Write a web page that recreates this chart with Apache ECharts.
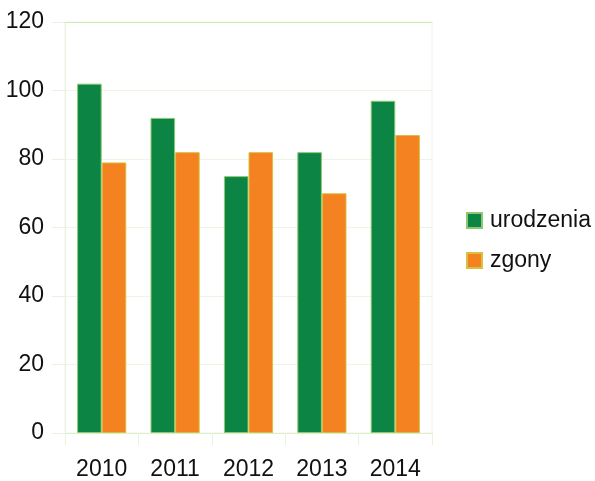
<!DOCTYPE html>
<html>
<head>
<meta charset="utf-8">
<script src="https://cdn.jsdelivr.net/npm/echarts@6/dist/echarts.min.js"></script>
<style>
html,body{margin:0;padding:0;background:#fff;}
#c{width:595px;height:481px;}
</style>
</head>
<body>
<div id="c"></div>
<script>
var categories = ['2010', '2011', '2012', '2013', '2014'];
var urodzenia = [102, 92, 75, 82, 97];
var zgony = [79, 82, 82, 70, 87];
var seriesNames = ['urodzenia', 'zgony'];

var font = '"Liberation Sans", Arial, sans-serif';
var chart = echarts.init(document.getElementById('c'), null, {renderer: 'canvas'});
chart.setOption({
  animation: false,
  backgroundColor: '#ffffff',
  grid: {left: 65, right: 163, top: 22, bottom: 46, show: true, borderColor: '#eef4e6', borderWidth: 1},
  legend: {
    orient: 'vertical', left: 466, top: 209, padding: 0, itemWidth: 15, itemHeight: 15, itemGap: 17,
    icon: 'rect',
    textStyle: {fontFamily: font, fontSize: 23, color: '#111111', padding: [0, 0, 0, 3]},
    data: seriesNames
  },
  xAxis: [{
    type: 'category', data: categories,
    axisLine: {show: true, lineStyle: {color: '#dcefc8', width: 1}},
    axisTick: {show: true, length: 12, lineStyle: {color: '#e8f2dc'}},
    axisLabel: {fontFamily: font, fontSize: 23, color: '#111111', margin: 25},
    splitLine: {show: false}
  }, {
    type: 'category', data: categories, position: 'top',
    axisLine: {show: true, lineStyle: {color: '#d2eab6', width: 1}},
    axisTick: {show: false}, axisLabel: {show: false}
  }],
  yAxis: {
    type: 'value', min: 0, max: 120, interval: 20,
    axisLine: {show: true, lineStyle: {color: '#e8f2dc'}},
    axisTick: {show: true, length: 13, lineStyle: {color: '#e8f2dc'}},
    axisLabel: {fontFamily: font, fontSize: 23, color: '#111111', margin: 21},
    splitLine: {show: true, lineStyle: {color: '#edf5e4'}}
  },
  series: [{
    name: seriesNames[0], type: 'bar', data: urodzenia, barGap: '0%', barCategoryGap: '33%',
    itemStyle: {color: '#0b8444', borderColor: '#8cc870', borderWidth: 1}
  }, {
    name: seriesNames[1], type: 'bar', data: zgony, barGap: '0%', barCategoryGap: '33%',
    itemStyle: {color: '#f58220', borderColor: '#d9c040', borderWidth: 1}
  }]
});
</script>
</body>
</html>
